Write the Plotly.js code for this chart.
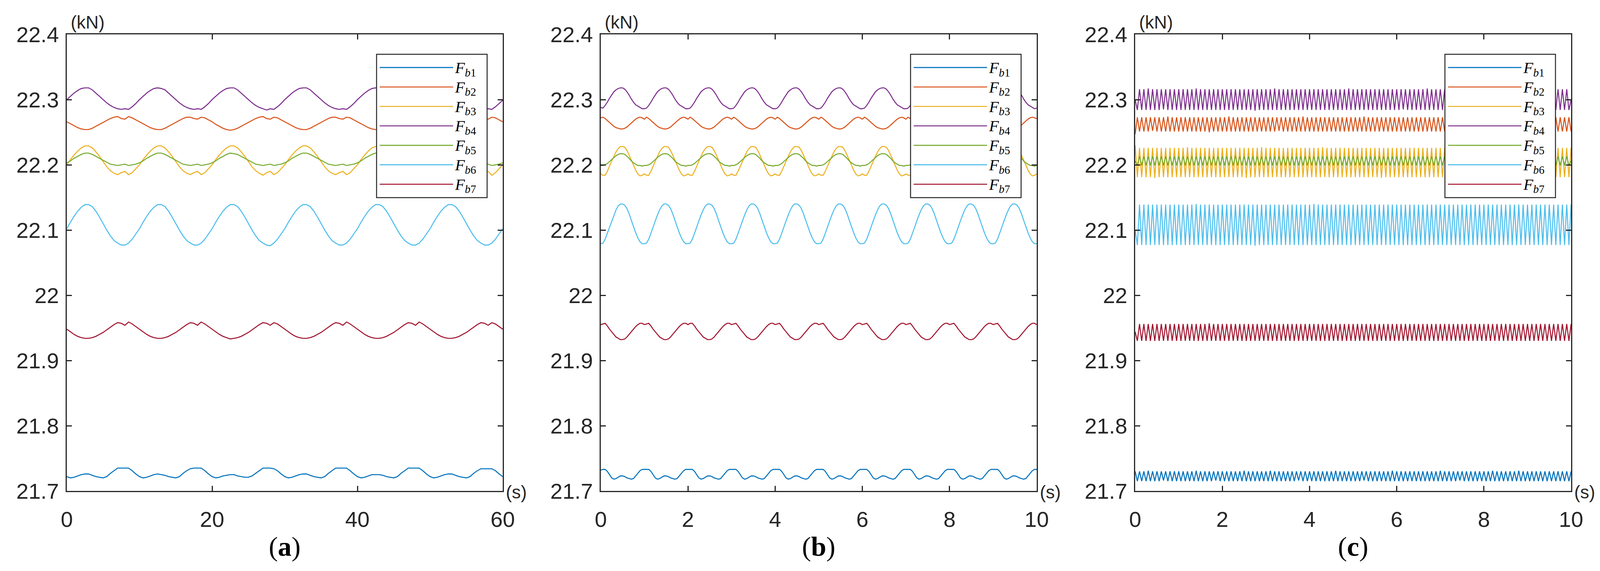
<!DOCTYPE html>
<html>
<head>
<meta charset="utf-8">
<script src="https://cdn.plot.ly/plotly-3.0.1.min.js"></script>
<style>
  body { margin: 0; background: #fff; }
  #force-plot { width: 4111px; height: 1462px; }
</style>
</head>
<body>
<div id="force-plot"></div>
<script>
// axis ticks
var yTickVals = [21.7, 21.8, 21.9, 22, 22.1, 22.2, 22.3, 22.4];
var yTickText = ['21.7', '21.8', '21.9', '22', '22.1', '22.2', '22.3', '22.4'];
var xTickValsA = [0, 20, 40, 60];
var xTickValsB = [0, 2, 4, 6, 8, 10];
var xTickValsC = [0, 2, 4, 6, 8, 10];

var seriesNames = ['<i>F</i><sub><i>b</i>1</sub>', '<i>F</i><sub><i>b</i>2</sub>', '<i>F</i><sub><i>b</i>3</sub>',
                   '<i>F</i><sub><i>b</i>4</sub>', '<i>F</i><sub><i>b</i>5</sub>', '<i>F</i><sub><i>b</i>6</sub>',
                   '<i>F</i><sub><i>b</i>7</sub>'];
var panelLabels = ['a', 'b', 'c'];

// sample spacing of each panel (s), first sample at t = 0
var stepA = 0.5;
var stepB = 0.05;
var stepC = 0.05;

// ---- panel (a): 0..60 s (kN)
var fb1A = [
21.722,21.720,21.721,21.723,21.725,21.726,21.726,21.724,21.722,21.721,21.720,21.722,21.727,21.731,21.735,21.735,21.735,21.735,21.731,21.726,
21.722,21.720,21.721,21.723,21.725,21.726,21.725,21.724,21.722,21.721,21.720,21.722,21.727,21.731,21.734,21.735,21.735,21.735,21.731,21.726,
21.722,21.720,21.721,21.723,21.724,21.725,21.725,21.723,21.722,21.721,21.721,21.723,21.727,21.731,21.735,21.735,21.735,21.734,21.731,21.726,
21.722,21.720,21.721,21.723,21.725,21.726,21.726,21.724,21.722,21.721,21.720,21.722,21.727,21.731,21.735,21.735,21.735,21.735,21.731,21.726,
21.722,21.720,21.721,21.723,21.725,21.725,21.725,21.724,21.722,21.721,21.720,21.722,21.727,21.731,21.735,21.735,21.735,21.735,21.731,21.726,
21.722,21.720,21.721,21.723,21.725,21.726,21.726,21.724,21.722,21.721,21.720,21.722,21.727,21.731,21.734,21.734,21.734,21.734,21.731,21.726,
21.722];
var fb2A = [
22.266,22.263,22.260,22.257,22.255,22.254,22.254,22.256,22.259,22.262,22.265,22.268,22.271,22.273,22.274,22.271,22.270,22.274,22.272,22.269,
22.266,22.263,22.260,22.257,22.255,22.254,22.254,22.256,22.259,22.262,22.265,22.268,22.271,22.273,22.273,22.271,22.270,22.273,22.272,22.269,
22.266,22.262,22.259,22.256,22.254,22.253,22.254,22.256,22.259,22.262,22.265,22.268,22.271,22.273,22.274,22.271,22.270,22.273,22.272,22.269,
22.266,22.263,22.260,22.257,22.255,22.254,22.254,22.256,22.259,22.262,22.265,22.268,22.271,22.273,22.273,22.271,22.270,22.273,22.272,22.269,
22.266,22.263,22.260,22.257,22.255,22.254,22.254,22.256,22.259,22.262,22.265,22.268,22.271,22.273,22.274,22.271,22.270,22.274,22.272,22.269,
22.266,22.263,22.260,22.257,22.255,22.254,22.254,22.256,22.259,22.262,22.265,22.268,22.271,22.273,22.273,22.271,22.270,22.273,22.272,22.269,
22.266];
var fb3A = [
22.200,22.208,22.215,22.221,22.226,22.229,22.229,22.226,22.220,22.213,22.205,22.197,22.191,22.187,22.185,22.188,22.190,22.185,22.188,22.194,
22.200,22.208,22.215,22.221,22.226,22.229,22.229,22.226,22.220,22.213,22.205,22.197,22.191,22.187,22.185,22.188,22.190,22.185,22.188,22.194,
22.200,22.208,22.215,22.221,22.226,22.229,22.229,22.226,22.220,22.213,22.205,22.197,22.191,22.187,22.184,22.188,22.190,22.185,22.188,22.194,
22.200,22.208,22.215,22.221,22.226,22.229,22.229,22.226,22.220,22.213,22.205,22.197,22.191,22.187,22.185,22.188,22.190,22.185,22.188,22.194,
22.200,22.208,22.215,22.221,22.226,22.228,22.229,22.226,22.220,22.213,22.205,22.197,22.191,22.187,22.185,22.188,22.190,22.185,22.188,22.194,
22.200,22.208,22.215,22.221,22.226,22.229,22.229,22.226,22.220,22.213,22.205,22.197,22.191,22.187,22.185,22.188,22.190,22.184,22.188,22.194,
22.200];
var fb4A = [
22.300,22.305,22.310,22.314,22.317,22.318,22.318,22.315,22.310,22.305,22.300,22.295,22.291,22.288,22.286,22.285,22.286,22.285,22.289,22.294,
22.300,22.305,22.310,22.314,22.317,22.318,22.317,22.315,22.310,22.305,22.300,22.295,22.291,22.288,22.286,22.285,22.286,22.285,22.289,22.294,
22.300,22.305,22.310,22.314,22.317,22.318,22.318,22.315,22.310,22.305,22.300,22.295,22.291,22.288,22.286,22.284,22.286,22.285,22.289,22.294,
22.300,22.305,22.310,22.314,22.317,22.318,22.318,22.315,22.310,22.305,22.300,22.295,22.291,22.288,22.286,22.285,22.286,22.285,22.289,22.294,
22.300,22.305,22.310,22.314,22.317,22.318,22.317,22.315,22.310,22.305,22.300,22.295,22.291,22.288,22.286,22.285,22.286,22.285,22.289,22.294,
22.300,22.305,22.310,22.314,22.317,22.318,22.318,22.315,22.310,22.305,22.300,22.295,22.291,22.288,22.286,22.285,22.286,22.285,22.289,22.294,
22.299];
var fb5A = [
22.203,22.206,22.210,22.213,22.216,22.218,22.218,22.216,22.213,22.210,22.207,22.204,22.201,22.200,22.199,22.200,22.201,22.199,22.200,22.201,
22.203,22.206,22.210,22.213,22.216,22.218,22.218,22.216,22.213,22.210,22.207,22.204,22.201,22.200,22.199,22.200,22.201,22.199,22.200,22.201,
22.203,22.206,22.210,22.213,22.216,22.218,22.217,22.216,22.213,22.210,22.207,22.204,22.201,22.200,22.199,22.200,22.201,22.199,22.200,22.201,
22.203,22.206,22.210,22.213,22.216,22.218,22.218,22.216,22.213,22.210,22.207,22.204,22.201,22.200,22.199,22.200,22.201,22.199,22.200,22.201,
22.203,22.206,22.210,22.213,22.216,22.218,22.218,22.216,22.213,22.210,22.207,22.204,22.201,22.200,22.199,22.200,22.201,22.199,22.200,22.201,
22.203,22.206,22.210,22.213,22.216,22.218,22.218,22.216,22.213,22.210,22.207,22.204,22.201,22.200,22.199,22.200,22.201,22.199,22.200,22.201,
22.203];
var fb6A = [
22.102,22.112,22.121,22.129,22.135,22.139,22.139,22.136,22.129,22.120,22.110,22.100,22.091,22.084,22.080,22.077,22.077,22.080,22.086,22.094,
22.102,22.112,22.121,22.129,22.135,22.139,22.139,22.136,22.129,22.120,22.110,22.100,22.091,22.084,22.080,22.077,22.077,22.080,22.086,22.094,
22.102,22.112,22.121,22.129,22.135,22.139,22.139,22.136,22.129,22.120,22.110,22.100,22.091,22.084,22.080,22.077,22.076,22.080,22.086,22.094,
22.102,22.112,22.121,22.129,22.135,22.139,22.139,22.136,22.129,22.120,22.110,22.100,22.091,22.084,22.080,22.077,22.077,22.080,22.086,22.094,
22.102,22.112,22.121,22.129,22.135,22.139,22.139,22.136,22.129,22.120,22.110,22.100,22.091,22.084,22.080,22.077,22.077,22.080,22.086,22.094,
22.102,22.112,22.121,22.129,22.135,22.139,22.139,22.136,22.129,22.120,22.110,22.100,22.091,22.084,22.080,22.077,22.077,22.080,22.086,22.094,
22.102];
var fb7A = [
21.948,21.944,21.940,21.937,21.935,21.934,21.934,21.935,21.937,21.940,21.943,21.947,21.951,21.955,21.958,21.957,21.954,21.959,21.956,21.952,
21.948,21.944,21.940,21.937,21.935,21.934,21.934,21.935,21.937,21.940,21.943,21.947,21.951,21.955,21.958,21.957,21.954,21.959,21.956,21.952,
21.948,21.944,21.940,21.937,21.935,21.933,21.934,21.935,21.937,21.940,21.943,21.947,21.951,21.955,21.958,21.957,21.954,21.958,21.956,21.952,
21.948,21.944,21.940,21.937,21.935,21.934,21.934,21.935,21.937,21.940,21.943,21.947,21.951,21.955,21.958,21.957,21.954,21.959,21.956,21.952,
21.948,21.944,21.940,21.937,21.935,21.934,21.934,21.935,21.937,21.940,21.943,21.947,21.951,21.955,21.958,21.957,21.954,21.959,21.956,21.952,
21.948,21.944,21.940,21.937,21.935,21.934,21.934,21.935,21.937,21.940,21.943,21.947,21.951,21.955,21.958,21.957,21.954,21.958,21.956,21.952,
21.948];

// ---- panel (b): 0..10 s (kN)
var fb1B = [
21.732,21.733,21.733,21.730,21.725,21.720,21.718,21.719,21.721,21.723,21.723,21.722,21.720,21.719,21.718,21.719,21.723,21.727,21.731,21.733,
21.733,21.733,21.733,21.730,21.725,21.720,21.718,21.719,21.721,21.723,21.723,21.722,21.720,21.719,21.718,21.719,21.723,21.727,21.731,21.733,
21.733,21.733,21.733,21.730,21.725,21.720,21.718,21.719,21.721,21.723,21.723,21.722,21.720,21.719,21.718,21.719,21.723,21.727,21.731,21.733,
21.733,21.733,21.733,21.730,21.725,21.720,21.718,21.719,21.721,21.723,21.723,21.722,21.720,21.719,21.718,21.719,21.723,21.727,21.731,21.733,
21.733,21.733,21.733,21.730,21.725,21.720,21.718,21.719,21.721,21.723,21.723,21.722,21.720,21.719,21.718,21.719,21.723,21.727,21.731,21.733,
21.733,21.733,21.733,21.730,21.725,21.720,21.718,21.719,21.721,21.723,21.723,21.722,21.720,21.719,21.718,21.719,21.723,21.727,21.731,21.733,
21.733,21.733,21.733,21.730,21.725,21.720,21.718,21.719,21.721,21.723,21.723,21.722,21.720,21.719,21.718,21.719,21.723,21.727,21.731,21.733,
21.733,21.733,21.733,21.730,21.725,21.720,21.718,21.719,21.721,21.723,21.723,21.722,21.720,21.719,21.718,21.719,21.723,21.727,21.731,21.733,
21.733,21.733,21.733,21.730,21.725,21.720,21.718,21.719,21.721,21.723,21.723,21.722,21.720,21.719,21.718,21.719,21.723,21.727,21.731,21.733,
21.733,21.733,21.733,21.730,21.725,21.720,21.718,21.719,21.721,21.723,21.723,21.722,21.720,21.719,21.718,21.719,21.723,21.727,21.731,21.733,
21.733];
var fb2B = [
22.272,22.273,22.271,22.268,22.265,22.262,22.259,22.257,22.256,22.255,22.255,22.256,22.258,22.261,22.264,22.267,22.270,22.272,22.273,22.272,
22.270,22.273,22.271,22.268,22.265,22.262,22.259,22.257,22.256,22.255,22.255,22.256,22.258,22.261,22.264,22.267,22.270,22.272,22.273,22.272,
22.270,22.273,22.271,22.268,22.265,22.262,22.259,22.257,22.256,22.255,22.255,22.256,22.258,22.261,22.264,22.267,22.270,22.272,22.273,22.272,
22.270,22.273,22.271,22.268,22.265,22.262,22.259,22.257,22.256,22.255,22.255,22.256,22.258,22.261,22.264,22.267,22.270,22.272,22.273,22.272,
22.270,22.273,22.271,22.268,22.265,22.262,22.259,22.257,22.256,22.255,22.255,22.256,22.258,22.261,22.264,22.267,22.270,22.272,22.273,22.272,
22.270,22.273,22.271,22.268,22.265,22.262,22.259,22.257,22.256,22.255,22.255,22.256,22.258,22.261,22.264,22.267,22.270,22.272,22.273,22.272,
22.270,22.273,22.271,22.268,22.265,22.262,22.259,22.257,22.256,22.255,22.255,22.256,22.258,22.261,22.264,22.267,22.270,22.272,22.273,22.272,
22.270,22.273,22.271,22.268,22.265,22.262,22.259,22.257,22.256,22.255,22.255,22.256,22.258,22.261,22.264,22.267,22.270,22.272,22.273,22.272,
22.270,22.273,22.271,22.268,22.265,22.262,22.259,22.257,22.256,22.255,22.255,22.256,22.258,22.261,22.264,22.267,22.270,22.272,22.273,22.272,
22.270,22.273,22.271,22.268,22.265,22.262,22.259,22.257,22.256,22.255,22.255,22.256,22.258,22.261,22.264,22.267,22.270,22.272,22.273,22.272,
22.271];
var fb3B = [
22.186,22.184,22.184,22.190,22.198,22.206,22.213,22.220,22.225,22.228,22.228,22.227,22.222,22.215,22.207,22.199,22.192,22.186,22.183,22.184,
22.186,22.184,22.184,22.190,22.198,22.206,22.213,22.220,22.225,22.228,22.228,22.227,22.222,22.215,22.207,22.199,22.192,22.186,22.183,22.184,
22.186,22.184,22.184,22.190,22.198,22.206,22.213,22.220,22.225,22.228,22.228,22.227,22.222,22.215,22.207,22.199,22.192,22.186,22.183,22.184,
22.186,22.184,22.184,22.190,22.198,22.206,22.213,22.220,22.225,22.228,22.228,22.227,22.222,22.215,22.207,22.199,22.192,22.186,22.183,22.184,
22.186,22.184,22.184,22.190,22.198,22.206,22.213,22.220,22.225,22.228,22.228,22.227,22.222,22.215,22.207,22.199,22.192,22.186,22.183,22.184,
22.186,22.184,22.184,22.190,22.198,22.206,22.213,22.220,22.225,22.228,22.228,22.227,22.222,22.215,22.207,22.199,22.192,22.186,22.183,22.184,
22.186,22.184,22.184,22.190,22.198,22.206,22.213,22.220,22.225,22.228,22.228,22.227,22.222,22.215,22.207,22.199,22.192,22.186,22.183,22.184,
22.186,22.184,22.184,22.190,22.198,22.206,22.213,22.220,22.225,22.228,22.228,22.227,22.222,22.215,22.207,22.199,22.192,22.186,22.183,22.184,
22.186,22.184,22.184,22.190,22.198,22.206,22.213,22.220,22.225,22.228,22.228,22.227,22.222,22.215,22.207,22.199,22.192,22.186,22.183,22.184,
22.186,22.184,22.184,22.190,22.198,22.206,22.213,22.220,22.225,22.228,22.228,22.227,22.222,22.215,22.207,22.199,22.192,22.186,22.183,22.184,
22.186];
var fb4B = [
22.288,22.287,22.291,22.296,22.302,22.307,22.312,22.315,22.317,22.318,22.318,22.316,22.312,22.307,22.301,22.296,22.292,22.290,22.288,22.286,
22.286,22.287,22.291,22.296,22.302,22.307,22.312,22.315,22.317,22.318,22.318,22.316,22.312,22.307,22.301,22.296,22.292,22.290,22.288,22.286,
22.286,22.287,22.291,22.296,22.302,22.307,22.312,22.315,22.317,22.318,22.318,22.316,22.312,22.307,22.301,22.296,22.292,22.290,22.288,22.286,
22.286,22.287,22.291,22.296,22.302,22.307,22.312,22.315,22.317,22.318,22.318,22.316,22.312,22.307,22.301,22.296,22.292,22.290,22.288,22.286,
22.286,22.287,22.291,22.296,22.302,22.307,22.312,22.315,22.317,22.318,22.318,22.316,22.312,22.307,22.301,22.296,22.292,22.290,22.288,22.286,
22.286,22.287,22.291,22.296,22.302,22.307,22.312,22.315,22.317,22.318,22.318,22.316,22.312,22.307,22.301,22.296,22.292,22.290,22.288,22.286,
22.286,22.287,22.291,22.296,22.302,22.307,22.312,22.315,22.317,22.318,22.318,22.316,22.312,22.307,22.301,22.296,22.292,22.290,22.288,22.286,
22.286,22.287,22.291,22.296,22.302,22.307,22.312,22.315,22.317,22.318,22.318,22.316,22.312,22.307,22.301,22.296,22.292,22.290,22.288,22.286,
22.286,22.287,22.291,22.296,22.302,22.307,22.312,22.315,22.317,22.318,22.318,22.316,22.312,22.307,22.301,22.296,22.292,22.290,22.288,22.286,
22.286,22.287,22.291,22.296,22.302,22.307,22.312,22.315,22.317,22.318,22.318,22.316,22.312,22.307,22.301,22.296,22.292,22.290,22.288,22.286,
22.287];
var fb5B = [
22.199,22.199,22.200,22.202,22.205,22.208,22.211,22.214,22.216,22.217,22.217,22.216,22.213,22.210,22.206,22.203,22.201,22.199,22.199,22.198,
22.199,22.199,22.200,22.202,22.205,22.208,22.211,22.214,22.216,22.217,22.217,22.216,22.213,22.210,22.206,22.203,22.201,22.199,22.199,22.198,
22.199,22.199,22.200,22.202,22.205,22.208,22.211,22.214,22.216,22.217,22.217,22.216,22.213,22.210,22.206,22.203,22.201,22.199,22.199,22.198,
22.199,22.199,22.200,22.202,22.205,22.208,22.211,22.214,22.216,22.217,22.217,22.216,22.213,22.210,22.206,22.203,22.201,22.199,22.199,22.198,
22.199,22.199,22.200,22.202,22.205,22.208,22.211,22.214,22.216,22.217,22.217,22.216,22.213,22.210,22.206,22.203,22.201,22.199,22.199,22.198,
22.199,22.199,22.200,22.202,22.205,22.208,22.211,22.214,22.216,22.217,22.217,22.216,22.213,22.210,22.206,22.203,22.201,22.199,22.199,22.198,
22.199,22.199,22.200,22.202,22.205,22.208,22.211,22.214,22.216,22.217,22.217,22.216,22.213,22.210,22.206,22.203,22.201,22.199,22.199,22.198,
22.199,22.199,22.200,22.202,22.205,22.208,22.211,22.214,22.216,22.217,22.217,22.216,22.213,22.210,22.206,22.203,22.201,22.199,22.199,22.198,
22.199,22.199,22.200,22.202,22.205,22.208,22.211,22.214,22.216,22.217,22.217,22.216,22.213,22.210,22.206,22.203,22.201,22.199,22.199,22.198,
22.199,22.199,22.200,22.202,22.205,22.208,22.211,22.214,22.216,22.217,22.217,22.216,22.213,22.210,22.206,22.203,22.201,22.199,22.199,22.198,
22.199];
var fb6B = [
22.079,22.080,22.086,22.095,22.105,22.114,22.123,22.131,22.137,22.140,22.140,22.138,22.133,22.125,22.115,22.105,22.096,22.088,22.082,22.079,
22.079,22.080,22.086,22.095,22.105,22.114,22.123,22.131,22.137,22.140,22.140,22.138,22.133,22.125,22.115,22.105,22.096,22.088,22.082,22.079,
22.079,22.080,22.086,22.095,22.105,22.114,22.123,22.131,22.137,22.140,22.140,22.138,22.133,22.125,22.115,22.105,22.096,22.088,22.082,22.079,
22.079,22.080,22.086,22.095,22.105,22.114,22.123,22.131,22.137,22.140,22.140,22.138,22.133,22.125,22.115,22.105,22.096,22.088,22.082,22.079,
22.079,22.080,22.086,22.095,22.105,22.114,22.123,22.131,22.137,22.140,22.140,22.138,22.133,22.125,22.115,22.105,22.096,22.088,22.082,22.079,
22.079,22.080,22.086,22.095,22.105,22.114,22.123,22.131,22.137,22.140,22.140,22.138,22.133,22.125,22.115,22.105,22.096,22.088,22.082,22.079,
22.079,22.080,22.086,22.095,22.105,22.114,22.123,22.131,22.137,22.140,22.140,22.138,22.133,22.125,22.115,22.105,22.096,22.088,22.082,22.079,
22.079,22.080,22.086,22.095,22.105,22.114,22.123,22.131,22.137,22.140,22.140,22.138,22.133,22.125,22.115,22.105,22.096,22.088,22.082,22.079,
22.079,22.080,22.086,22.095,22.105,22.114,22.123,22.131,22.137,22.140,22.140,22.138,22.133,22.125,22.115,22.105,22.096,22.088,22.082,22.079,
22.079,22.080,22.086,22.095,22.105,22.114,22.123,22.131,22.137,22.140,22.140,22.138,22.133,22.125,22.115,22.105,22.096,22.088,22.082,22.079,
22.079];
var fb7B = [
21.955,21.956,21.957,21.953,21.948,21.944,21.940,21.936,21.934,21.932,21.932,21.933,21.936,21.940,21.944,21.948,21.952,21.955,21.957,21.957,
21.955,21.956,21.957,21.953,21.948,21.944,21.940,21.936,21.934,21.932,21.932,21.933,21.936,21.940,21.944,21.948,21.952,21.955,21.957,21.957,
21.955,21.957,21.957,21.953,21.948,21.944,21.940,21.936,21.934,21.932,21.932,21.933,21.936,21.940,21.944,21.948,21.952,21.955,21.957,21.957,
21.955,21.956,21.957,21.953,21.948,21.944,21.940,21.936,21.934,21.932,21.932,21.933,21.936,21.940,21.944,21.948,21.952,21.955,21.957,21.957,
21.955,21.956,21.957,21.953,21.948,21.944,21.940,21.936,21.934,21.932,21.932,21.933,21.936,21.940,21.944,21.948,21.952,21.955,21.957,21.957,
21.955,21.956,21.957,21.953,21.948,21.944,21.940,21.936,21.934,21.932,21.932,21.933,21.936,21.940,21.944,21.948,21.952,21.955,21.957,21.957,
21.955,21.956,21.957,21.953,21.948,21.944,21.940,21.936,21.934,21.932,21.932,21.933,21.936,21.940,21.944,21.948,21.952,21.955,21.957,21.957,
21.955,21.956,21.957,21.953,21.948,21.944,21.940,21.936,21.934,21.932,21.932,21.933,21.936,21.940,21.944,21.948,21.952,21.955,21.957,21.957,
21.955,21.956,21.957,21.953,21.948,21.944,21.940,21.936,21.934,21.932,21.932,21.933,21.936,21.940,21.944,21.948,21.952,21.955,21.957,21.957,
21.955,21.956,21.957,21.953,21.948,21.944,21.940,21.936,21.934,21.932,21.932,21.933,21.936,21.940,21.944,21.948,21.952,21.955,21.957,21.957,
21.955];

// ---- panel (c): 0..10 s, fast oscillation, peaks and troughs (kN)
var fb1C = [
21.730,21.715,21.730,21.715,21.730,21.715,21.731,21.715,21.730,21.715,21.730,21.715,21.730,21.716,21.730,21.715,21.730,21.715,21.730,21.715,
21.730,21.715,21.730,21.715,21.730,21.715,21.730,21.715,21.731,21.715,21.730,21.715,21.730,21.715,21.730,21.715,21.730,21.716,21.730,21.715,
21.730,21.715,21.730,21.715,21.730,21.715,21.730,21.715,21.730,21.715,21.731,21.715,21.730,21.715,21.730,21.715,21.730,21.715,21.730,21.715,
21.730,21.715,21.731,21.715,21.730,21.715,21.730,21.715,21.730,21.715,21.730,21.715,21.730,21.715,21.730,21.716,21.730,21.715,21.730,21.715,
21.730,21.715,21.730,21.715,21.730,21.715,21.730,21.715,21.730,21.715,21.730,21.715,21.731,21.715,21.730,21.715,21.730,21.715,21.730,21.715,
21.730,21.715,21.730,21.715,21.730,21.716,21.730,21.715,21.730,21.715,21.730,21.715,21.730,21.715,21.730,21.715,21.730,21.715,21.731,21.715,
21.730,21.715,21.730,21.715,21.730,21.715,21.730,21.715,21.730,21.715,21.730,21.715,21.730,21.715,21.730,21.715,21.730,21.715,21.730,21.715,
21.731,21.715,21.730,21.715,21.730,21.715,21.730,21.715,21.730,21.716,21.730,21.715,21.730,21.715,21.730,21.715,21.730,21.715,21.730,21.715,
21.730,21.715,21.730,21.715,21.731,21.715,21.730,21.715,21.730,21.715,21.730,21.715,21.730,21.715,21.730,21.715,21.731,21.715,21.730,21.715,
21.730,21.715,21.730,21.715,21.730,21.715,21.730,21.715,21.730,21.715,21.730,21.715,21.730,21.715,21.730,21.715,21.730,21.715,21.730,21.715,
21.730];
var fb2C = [
22.247,22.273,22.251,22.273,22.251,22.273,22.251,22.273,22.252,22.273,22.251,22.273,22.251,22.273,22.251,22.274,22.251,22.273,22.251,22.273,
22.251,22.273,22.251,22.273,22.251,22.273,22.251,22.273,22.251,22.273,22.251,22.273,22.251,22.273,22.250,22.273,22.251,22.273,22.251,22.273,
22.251,22.273,22.251,22.274,22.251,22.273,22.251,22.273,22.251,22.273,22.251,22.273,22.251,22.273,22.251,22.273,22.251,22.273,22.251,22.273,
22.251,22.273,22.251,22.273,22.251,22.273,22.252,22.273,22.251,22.273,22.251,22.273,22.251,22.273,22.251,22.273,22.251,22.274,22.251,22.273,
22.251,22.273,22.251,22.273,22.251,22.273,22.251,22.273,22.251,22.273,22.251,22.273,22.251,22.273,22.251,22.273,22.251,22.273,22.251,22.273,
22.251,22.273,22.251,22.273,22.251,22.274,22.251,22.273,22.251,22.273,22.251,22.273,22.251,22.273,22.251,22.273,22.251,22.273,22.251,22.273,
22.251,22.273,22.251,22.273,22.251,22.273,22.251,22.273,22.251,22.273,22.251,22.273,22.251,22.273,22.251,22.273,22.251,22.273,22.251,22.273,
22.251,22.273,22.251,22.273,22.251,22.273,22.251,22.273,22.251,22.274,22.251,22.273,22.251,22.273,22.251,22.273,22.251,22.273,22.251,22.273,
22.251,22.273,22.251,22.273,22.251,22.273,22.251,22.273,22.251,22.273,22.251,22.273,22.251,22.273,22.251,22.273,22.251,22.273,22.251,22.273,
22.251,22.273,22.251,22.273,22.251,22.273,22.251,22.273,22.251,22.273,22.251,22.273,22.251,22.273,22.251,22.273,22.251,22.273,22.251,22.273,
22.251];
var fb3C = [
22.230,22.181,22.226,22.181,22.226,22.181,22.226,22.181,22.226,22.180,22.226,22.181,22.226,22.181,22.226,22.181,22.226,22.181,22.226,22.181,
22.226,22.181,22.226,22.181,22.227,22.181,22.226,22.181,22.226,22.181,22.226,22.181,22.226,22.181,22.226,22.181,22.226,22.181,22.226,22.181,
22.226,22.181,22.226,22.181,22.226,22.181,22.226,22.181,22.226,22.181,22.226,22.180,22.226,22.181,22.226,22.181,22.226,22.181,22.227,22.181,
22.226,22.181,22.226,22.181,22.226,22.181,22.226,22.181,22.226,22.181,22.226,22.181,22.226,22.181,22.226,22.181,22.226,22.181,22.226,22.181,
22.226,22.181,22.226,22.181,22.226,22.181,22.227,22.181,22.226,22.181,22.226,22.181,22.226,22.181,22.226,22.181,22.226,22.181,22.226,22.181,
22.226,22.181,22.226,22.181,22.226,22.181,22.226,22.181,22.226,22.181,22.226,22.181,22.226,22.180,22.226,22.181,22.226,22.181,22.226,22.181,
22.226,22.181,22.226,22.181,22.226,22.181,22.226,22.181,22.226,22.181,22.226,22.181,22.226,22.181,22.226,22.181,22.226,22.181,22.226,22.181,
22.226,22.181,22.226,22.181,22.226,22.181,22.226,22.181,22.226,22.181,22.227,22.181,22.226,22.181,22.226,22.181,22.226,22.181,22.226,22.181,
22.226,22.181,22.226,22.181,22.226,22.181,22.226,22.181,22.226,22.181,22.226,22.181,22.226,22.181,22.226,22.181,22.226,22.181,22.226,22.181,
22.226,22.181,22.226,22.181,22.226,22.181,22.226,22.181,22.226,22.181,22.226,22.181,22.226,22.181,22.226,22.181,22.226,22.181,22.226,22.181,
22.226];
var fb4C = [
22.300,22.284,22.316,22.284,22.316,22.284,22.317,22.284,22.316,22.284,22.316,22.284,22.316,22.285,22.316,22.284,22.316,22.284,22.316,22.284,
22.316,22.284,22.316,22.284,22.316,22.284,22.316,22.284,22.317,22.284,22.316,22.284,22.316,22.284,22.316,22.284,22.316,22.284,22.316,22.284,
22.316,22.284,22.316,22.284,22.316,22.284,22.316,22.284,22.316,22.284,22.316,22.284,22.316,22.284,22.316,22.283,22.316,22.284,22.316,22.284,
22.316,22.284,22.316,22.284,22.317,22.284,22.316,22.284,22.316,22.284,22.316,22.284,22.316,22.284,22.316,22.284,22.316,22.284,22.316,22.284,
22.316,22.284,22.316,22.284,22.316,22.284,22.316,22.284,22.316,22.284,22.316,22.284,22.316,22.284,22.316,22.284,22.316,22.284,22.317,22.284,
22.316,22.284,22.316,22.284,22.316,22.284,22.316,22.284,22.316,22.284,22.316,22.284,22.316,22.284,22.316,22.284,22.316,22.284,22.316,22.284,
22.316,22.284,22.316,22.285,22.316,22.284,22.316,22.284,22.316,22.284,22.316,22.284,22.316,22.284,22.317,22.284,22.316,22.284,22.316,22.284,
22.316,22.284,22.316,22.284,22.316,22.284,22.316,22.284,22.316,22.284,22.316,22.284,22.316,22.284,22.316,22.284,22.316,22.284,22.316,22.284,
22.316,22.284,22.316,22.284,22.316,22.284,22.316,22.284,22.316,22.284,22.317,22.284,22.316,22.284,22.316,22.284,22.316,22.284,22.316,22.284,
22.316,22.284,22.316,22.284,22.316,22.284,22.316,22.284,22.316,22.284,22.316,22.284,22.316,22.284,22.316,22.284,22.316,22.284,22.316,22.284,
22.300];
var fb5C = [
22.206,22.199,22.213,22.199,22.213,22.199,22.213,22.199,22.213,22.199,22.213,22.199,22.213,22.199,22.213,22.199,22.213,22.199,22.213,22.199,
22.213,22.199,22.213,22.199,22.213,22.199,22.213,22.199,22.213,22.199,22.213,22.199,22.213,22.199,22.213,22.199,22.213,22.199,22.213,22.199,
22.213,22.199,22.213,22.199,22.213,22.199,22.214,22.199,22.213,22.199,22.213,22.199,22.213,22.199,22.213,22.199,22.213,22.199,22.213,22.199,
22.213,22.199,22.213,22.199,22.213,22.199,22.213,22.199,22.213,22.199,22.213,22.199,22.213,22.199,22.213,22.199,22.213,22.199,22.213,22.199,
22.213,22.199,22.213,22.199,22.213,22.199,22.213,22.199,22.213,22.199,22.213,22.199,22.213,22.199,22.213,22.199,22.213,22.199,22.213,22.199,
22.213,22.199,22.213,22.199,22.213,22.199,22.213,22.199,22.213,22.199,22.213,22.199,22.213,22.199,22.213,22.199,22.213,22.199,22.213,22.199,
22.213,22.199,22.213,22.199,22.213,22.199,22.213,22.199,22.213,22.199,22.213,22.199,22.213,22.199,22.213,22.199,22.213,22.199,22.213,22.199,
22.213,22.199,22.213,22.199,22.213,22.199,22.213,22.199,22.213,22.199,22.213,22.199,22.213,22.199,22.213,22.199,22.213,22.199,22.213,22.199,
22.213,22.199,22.213,22.199,22.213,22.199,22.213,22.199,22.213,22.199,22.213,22.199,22.213,22.199,22.213,22.199,22.213,22.199,22.213,22.199,
22.213,22.199,22.213,22.199,22.213,22.199,22.213,22.199,22.213,22.199,22.213,22.199,22.213,22.199,22.213,22.199,22.213,22.199,22.213,22.199,
22.206];
var fb6C = [
22.100,22.077,22.139,22.077,22.139,22.077,22.139,22.077,22.139,22.077,22.139,22.077,22.139,22.077,22.139,22.077,22.139,22.077,22.139,22.077,
22.139,22.077,22.139,22.077,22.139,22.077,22.139,22.077,22.140,22.077,22.139,22.077,22.139,22.077,22.139,22.077,22.139,22.077,22.139,22.077,
22.139,22.077,22.139,22.077,22.139,22.077,22.139,22.077,22.139,22.077,22.139,22.077,22.139,22.077,22.139,22.076,22.139,22.077,22.139,22.077,
22.139,22.077,22.139,22.077,22.139,22.077,22.139,22.077,22.139,22.077,22.139,22.077,22.139,22.077,22.139,22.077,22.139,22.077,22.139,22.077,
22.139,22.077,22.140,22.077,22.139,22.077,22.139,22.077,22.139,22.077,22.139,22.077,22.139,22.077,22.139,22.077,22.139,22.077,22.139,22.077,
22.139,22.077,22.139,22.077,22.139,22.077,22.139,22.077,22.139,22.077,22.139,22.077,22.139,22.077,22.139,22.077,22.139,22.077,22.139,22.077,
22.139,22.077,22.139,22.077,22.139,22.077,22.139,22.077,22.139,22.077,22.139,22.077,22.139,22.077,22.139,22.077,22.139,22.077,22.139,22.077,
22.139,22.077,22.139,22.077,22.139,22.077,22.139,22.077,22.139,22.077,22.139,22.077,22.139,22.077,22.139,22.077,22.139,22.077,22.139,22.077,
22.139,22.077,22.139,22.077,22.139,22.077,22.139,22.077,22.139,22.077,22.139,22.077,22.139,22.077,22.139,22.077,22.139,22.077,22.139,22.077,
22.139,22.077,22.139,22.077,22.139,22.077,22.139,22.077,22.139,22.077,22.139,22.077,22.139,22.077,22.139,22.077,22.139,22.077,22.139,22.077,
22.139];
var fb7C = [
21.944,21.930,21.956,21.930,21.956,21.930,21.956,21.930,21.956,21.930,21.956,21.930,21.956,21.930,21.956,21.930,21.956,21.930,21.956,21.930,
21.956,21.930,21.956,21.930,21.956,21.930,21.956,21.930,21.956,21.930,21.956,21.930,21.956,21.930,21.957,21.930,21.956,21.930,21.956,21.930,
21.956,21.930,21.956,21.930,21.956,21.930,21.956,21.930,21.956,21.930,21.956,21.930,21.956,21.930,21.956,21.930,21.956,21.930,21.956,21.930,
21.956,21.930,21.956,21.930,21.956,21.930,21.956,21.930,21.956,21.930,21.956,21.930,21.956,21.930,21.956,21.930,21.956,21.930,21.956,21.930,
21.956,21.930,21.956,21.930,21.956,21.930,21.956,21.930,21.956,21.930,21.956,21.930,21.956,21.930,21.956,21.930,21.956,21.930,21.956,21.930,
21.956,21.930,21.956,21.930,21.956,21.930,21.956,21.930,21.956,21.930,21.956,21.930,21.956,21.930,21.956,21.930,21.956,21.930,21.956,21.930,
21.956,21.930,21.956,21.930,21.956,21.930,21.956,21.930,21.956,21.930,21.956,21.930,21.956,21.930,21.956,21.930,21.956,21.930,21.956,21.930,
21.956,21.930,21.956,21.930,21.956,21.930,21.956,21.930,21.956,21.930,21.956,21.930,21.956,21.930,21.956,21.930,21.956,21.930,21.956,21.930,
21.956,21.930,21.956,21.930,21.956,21.930,21.956,21.930,21.956,21.930,21.956,21.930,21.956,21.930,21.956,21.930,21.956,21.930,21.956,21.930,
21.956,21.930,21.956,21.930,21.956,21.930,21.956,21.930,21.956,21.930,21.956,21.930,21.956,21.930,21.956,21.930,21.956,21.930,21.956,21.930,
21.956];

var lineColors = ['#0072BD', '#D95319', '#EDB120', '#7E2F8E', '#77AC30', '#4DBEEE', '#A2142F'];

function init_force_plot() {
    var W = 4111, H = 1462;
    // pixel frame of each panel
    var panelLeft = [171, 1538, 2906];
    var panelWidth = 1116;
    var plotTop = 88, plotBottom = 1257;
    // legend frame relative to panel left edge
    var boxLeft = 793, boxRight = 1076, boxTop = 139, boxBottom = 506;

    var panels = [
        { series: [fb1A, fb2A, fb3A, fb4A, fb5A, fb6A, fb7A], step: stepA, range: [0, 60], ticks: xTickValsA },
        { series: [fb1B, fb2B, fb3B, fb4B, fb5B, fb6B, fb7B], step: stepB, range: [0, 10], ticks: xTickValsB },
        { series: [fb1C, fb2C, fb3C, fb4C, fb5C, fb6C, fb7C], step: stepC, range: [0, 10], ticks: xTickValsC }
    ];

    var ink = '#262626';
    var tickFont = { family: 'Liberation Sans, Arial, sans-serif', size: 56, color: ink };
    var unitFont = { family: 'Liberation Sans, Arial, sans-serif', size: 46, color: ink };

    var data = [];
    var layout = {
        width: W,
        height: H,
        margin: { l: 0, r: 0, t: 0, b: 0 },
        paper_bgcolor: '#fff',
        plot_bgcolor: '#fff',
        showlegend: true,
        annotations: [],
        shapes: []
    };

    panels.forEach(function (p, k) {
        var n = k === 0 ? '' : String(k + 1);
        var legendId = 'legend' + n;

        p.series.forEach(function (ys, s) {
            data.push({
                y: ys,
                x0: 0,
                dx: p.step,
                type: 'scatter',
                mode: 'lines',
                // a bit larger glyphs than the row spacing font
                name: '<span style="font-size:41px">' + seriesNames[s] + '</span>',
                line: { color: lineColors[s], width: 2.6 },
                xaxis: 'x' + n,
                yaxis: 'y' + n,
                legend: legendId,
                hoverinfo: 'skip'
            });
        });

        var x0 = panelLeft[k] / W, x1 = (panelLeft[k] + panelWidth) / W;
        var common = {
            showline: true, linecolor: ink, linewidth: 3, mirror: 'ticks',
            ticks: 'inside', ticklen: 13, tickwidth: 3, tickcolor: ink,
            showgrid: false, zeroline: false, tickfont: tickFont, fixedrange: true
        };
        layout['xaxis' + n] = Object.assign({}, common, {
            domain: [x0, x1], range: p.range, tickvals: p.ticks,
            anchor: 'y' + n, ticklabelstandoff: 22
        });
        layout['yaxis' + n] = Object.assign({}, common, {
            domain: [1 - plotBottom / H, 1 - plotTop / H], range: [21.7, 22.4],
            tickvals: yTickVals, ticktext: yTickText,
            anchor: 'x' + n, ticklabelstandoff: 6
        });

        // legend frame, white so it hides the lines behind it
        layout.shapes.push({
            type: 'rect', xref: 'paper', yref: 'paper', layer: 'above',
            x0: (panelLeft[k] + boxLeft) / W, x1: (panelLeft[k] + boxRight) / W,
            y0: 1 - boxBottom / H, y1: 1 - boxTop / H,
            fillcolor: '#fff', line: { color: ink, width: 2.5 }
        });
        layout[legendId] = {
            x: (panelLeft[k] + boxLeft + 3) / W, y: 1 - (boxTop + 4) / H,
            xanchor: 'left', yanchor: 'top',
            bgcolor: 'rgba(0,0,0,0)', borderwidth: 0,
            itemwidth: 188,
            font: { family: 'Liberation Serif, Times New Roman, serif', size: 36, color: '#000' }
        };

        // unit labels
        layout.annotations.push({
            xref: 'paper', yref: 'paper', x: (panelLeft[k] + 8) / W, y: 1 - 57 / H,
            xanchor: 'left', yanchor: 'middle', showarrow: false, text: '(kN)', font: unitFont
        });
        layout.annotations.push({
            xref: 'paper', yref: 'paper', x: (panelLeft[k] + panelWidth + 6) / W, y: 1 - 1260 / H,
            xanchor: 'left', yanchor: 'middle', showarrow: false, text: '(s)', font: unitFont
        });
        // panel letter
        layout.annotations.push({
            xref: 'paper', yref: 'paper', x: (panelLeft[k] + panelWidth / 2) / W, y: 1 - 1399 / H,
            xanchor: 'center', yanchor: 'middle', showarrow: false,
            text: '(<b>' + panelLabels[k] + '</b>)',
            font: { family: 'Liberation Serif, Times New Roman, serif', size: 70, color: '#000' }
        });
    });

    var additional_param = {
        responsive: false,
        displayModeBar: false,
        displaylogo: false
    };

    Plotly.newPlot('force-plot', data, layout, additional_param);
}

init_force_plot();
</script>
</body>
</html>
